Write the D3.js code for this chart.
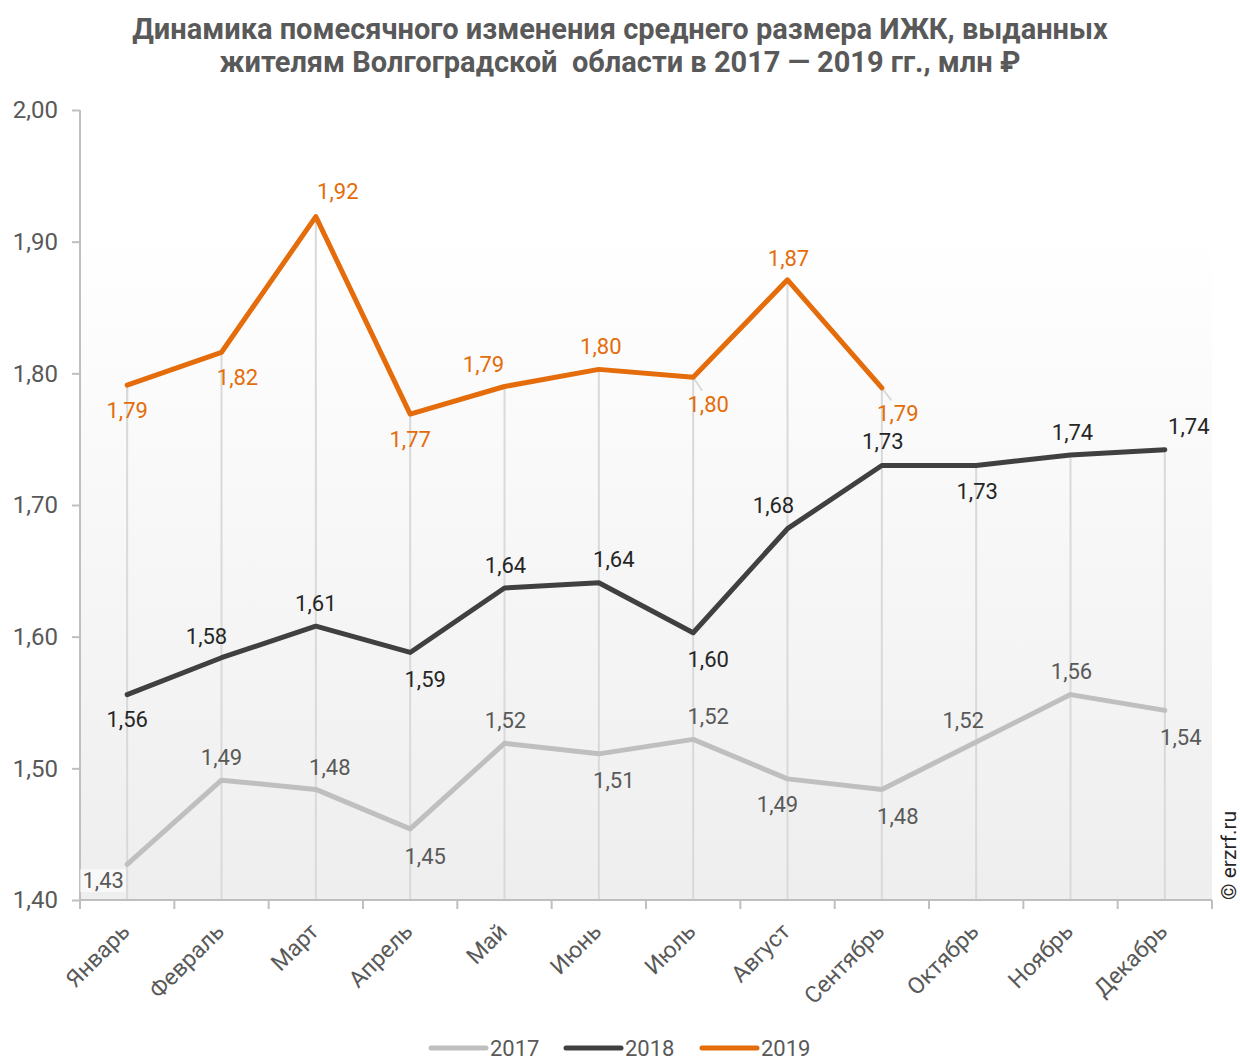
<!DOCTYPE html>
<html><head><meta charset="utf-8">
<script src="https://cdn.jsdelivr.net/npm/d3@7"></script>
<style>
body{margin:0;background:#fff;}
svg{display:block;font-family:Roboto,"Noto Sans",sans-serif;}
</style></head>
<body>
<svg id="chart" width="1240" height="1061"></svg>
<script>
const months = ["Январь","Февраль","Март","Апрель","Май","Июнь","Июль","Август","Сентябрь","Октябрь","Ноябрь","Декабрь"];
const series2017 = [1.427,1.491,1.484,1.454,1.519,1.511,1.522,1.492,1.484,1.520,1.556,1.544];
const series2018 = [1.556,1.584,1.608,1.588,1.637,1.641,1.603,1.682,1.730,1.730,1.738,1.742];
const series2019 = [1.791,1.816,1.919,1.769,1.790,1.803,1.797,1.871,1.789];
const yTicks = [1.40,1.50,1.60,1.70,1.80,1.90,2.00];
const seriesNames = ["2017","2018","2019"];
// label offsets (dx, dy) relative to each point
const offs2017 = [[-24,16],[0,-23],[14,-22],[15,27],[1,-23],[15,26],[15,-23],[-10,25],[16,27],[-13,-22],[1,-23],[16,27]];
const offs2018 = [[0,25],[-15,-21],[0,-23],[15,27],[1,-23],[15,-23],[15,27],[-14,-23],[1,-24],[1,26],[2,-23],[24,-23]];
const offs2019 = [[0,25],[16,25],[22,-25],[0,25],[-21,-22],[2,-23],[15,27],[1,-22],[16,25]];
// labels with leader lines (series, index)
const leaders = [["2019",0],["2019",6],["2019",8]];

const svg = d3.select("#chart");
const M = {l:80, r:1212, t:110, b:900};
const x = d3.scaleBand().domain(months).range([M.l, M.r]);
const y = d3.scaleLinear().domain([1.4, 2.0]).range([M.b, M.t]);
const cx = m => x(m) + x.bandwidth()/2;
const fmt = v => v.toFixed(2).replace(".",",");

const defs = svg.append("defs");
const grad = defs.append("linearGradient").attr("id","bg").attr("x1",0).attr("y1",0).attr("x2",0).attr("y2",1);
grad.append("stop").attr("offset","0%").attr("stop-color","#ffffff");
grad.append("stop").attr("offset","15%").attr("stop-color","#ffffff");
grad.append("stop").attr("offset","100%").attr("stop-color","#eeeeee");
svg.append("rect").attr("x",M.l).attr("y",M.t).attr("width",M.r-M.l).attr("height",M.b-M.t).attr("fill","url(#bg)");

// title
const title = svg.append("text").attr("text-anchor","middle").attr("fill","#595959")
  .attr("font-weight","bold").attr("font-size",29).attr("font-family","Roboto, sans-serif");
title.append("tspan").attr("x",620).attr("y",39).text("Динамика помесячного изменения среднего размера ИЖК, выданных");
title.append("tspan").attr("x",620).attr("y",72).attr("xml:space","preserve").style("white-space","pre").text("жителям Волгоградской  области в 2017 — 2019 гг., млн ₽");

// drop lines from highest point
months.forEach((m,i)=>{
  const vals = [series2017[i], series2018[i], series2019[i]].filter(v=>v!==undefined);
  const mx = d3.max(vals);
  svg.append("line").attr("x1",cx(m)).attr("x2",cx(m)).attr("y1",y(mx)).attr("y2",M.b)
    .attr("stroke","#d9d9d9").attr("stroke-width",2);
});

// axes
const yAxis = d3.axisLeft(y).tickValues(yTicks).tickSize(8).tickFormat(fmt);
const gy = svg.append("g").attr("transform",`translate(${M.l},0)`).call(yAxis);
gy.select(".domain").attr("stroke","#bfbfbf").attr("stroke-width",2).attr("d",`M0,${M.t}V${M.b}`);
gy.selectAll(".tick line").attr("stroke","#bfbfbf").attr("stroke-width",2);
gy.selectAll(".tick text").attr("font-size",24).attr("fill","#595959").attr("x",-22).attr("font-family","Roboto, sans-serif");

const gx = svg.append("g").attr("transform",`translate(0,${M.b})`);
gx.append("line").attr("x1",M.l).attr("x2",M.r).attr("stroke","#bfbfbf").attr("stroke-width",2);
d3.range(months.length+1).forEach(i=>{
  const xx = M.l + i*x.bandwidth();
  gx.append("line").attr("x1",xx).attr("x2",xx).attr("y1",0).attr("y2",9).attr("stroke","#bfbfbf").attr("stroke-width",2);
});
months.forEach(m=>{
  gx.append("text").attr("text-anchor","end").attr("font-size",23).attr("fill","#595959")
    .attr("transform",`translate(${cx(m)+4},${33}) rotate(-45)`).text(m);
});

const colors = {"2017":"#bfbfbf","2018":"#404040","2019":"#e46c0a"};
const labelColors = {"2017":"#595959","2018":"#262626","2019":"#e46c0a"};
const data = [[series2017,offs2017,"2017"],[series2018,offs2018,"2018"],[series2019,offs2019,"2019"]];
const line = d3.line().x((d,i)=>cx(months[i])).y(d=>y(d));

// leader lines
leaders.forEach(([name,i])=>{
  const [vals,offs] = data.find(d=>d[2]===name);
  const px = cx(months[i]), py = y(vals[i]);
  svg.append("line").attr("x1",px).attr("y1",py).attr("x2",px+offs[i][0]*0.6).attr("y2",py+offs[i][1]*0.5)
    .attr("stroke","#d9d9d9").attr("stroke-width",2);
});

data.forEach(([vals,offs,name])=>{
  svg.append("path").datum(vals).attr("d",line).attr("fill","none").attr("stroke",colors[name])
    .attr("stroke-width",5).attr("stroke-linejoin","round").attr("stroke-linecap","round");
});
data.forEach(([vals,offs,name])=>{
  vals.forEach((v,i)=>{
    const px = cx(months[i]), py = y(v);
    const t = svg.append("text").attr("x",px+offs[i][0]).attr("y",py+offs[i][1]).attr("dy","0.35em")
      .attr("text-anchor","middle").attr("font-size",22).attr("fill",labelColors[name])
      .text(fmt(v));
    if (name==="2017" && i===0) {
      const bb = t.node().getBBox();
      svg.insert("rect", () => t.node()).attr("x",bb.x-2).attr("y",bb.y+1).attr("width",bb.width+4).attr("height",bb.height-2)
        .attr("fill","#f8f8f8");
    }
  });
});

// legend
const lg = svg.append("g");
const legendX = [431, 566, 702];
seriesNames.forEach((n,i)=>{
  lg.append("line").attr("x1",legendX[i]).attr("x2",legendX[i]+55).attr("y1",1048).attr("y2",1048)
    .attr("stroke",colors[n]).attr("stroke-width",5).attr("stroke-linecap","round");
  lg.append("text").attr("x",legendX[i]+59).attr("y",1048).attr("dy","0.35em").attr("font-size",22)
    .attr("fill","#595959").text(n);
});

// watermark
svg.append("text").attr("transform","translate(1236,900) rotate(-90)").attr("font-size",21)
  .attr("fill","#262626").text("© erzrf.ru");
</script>
</body></html>
